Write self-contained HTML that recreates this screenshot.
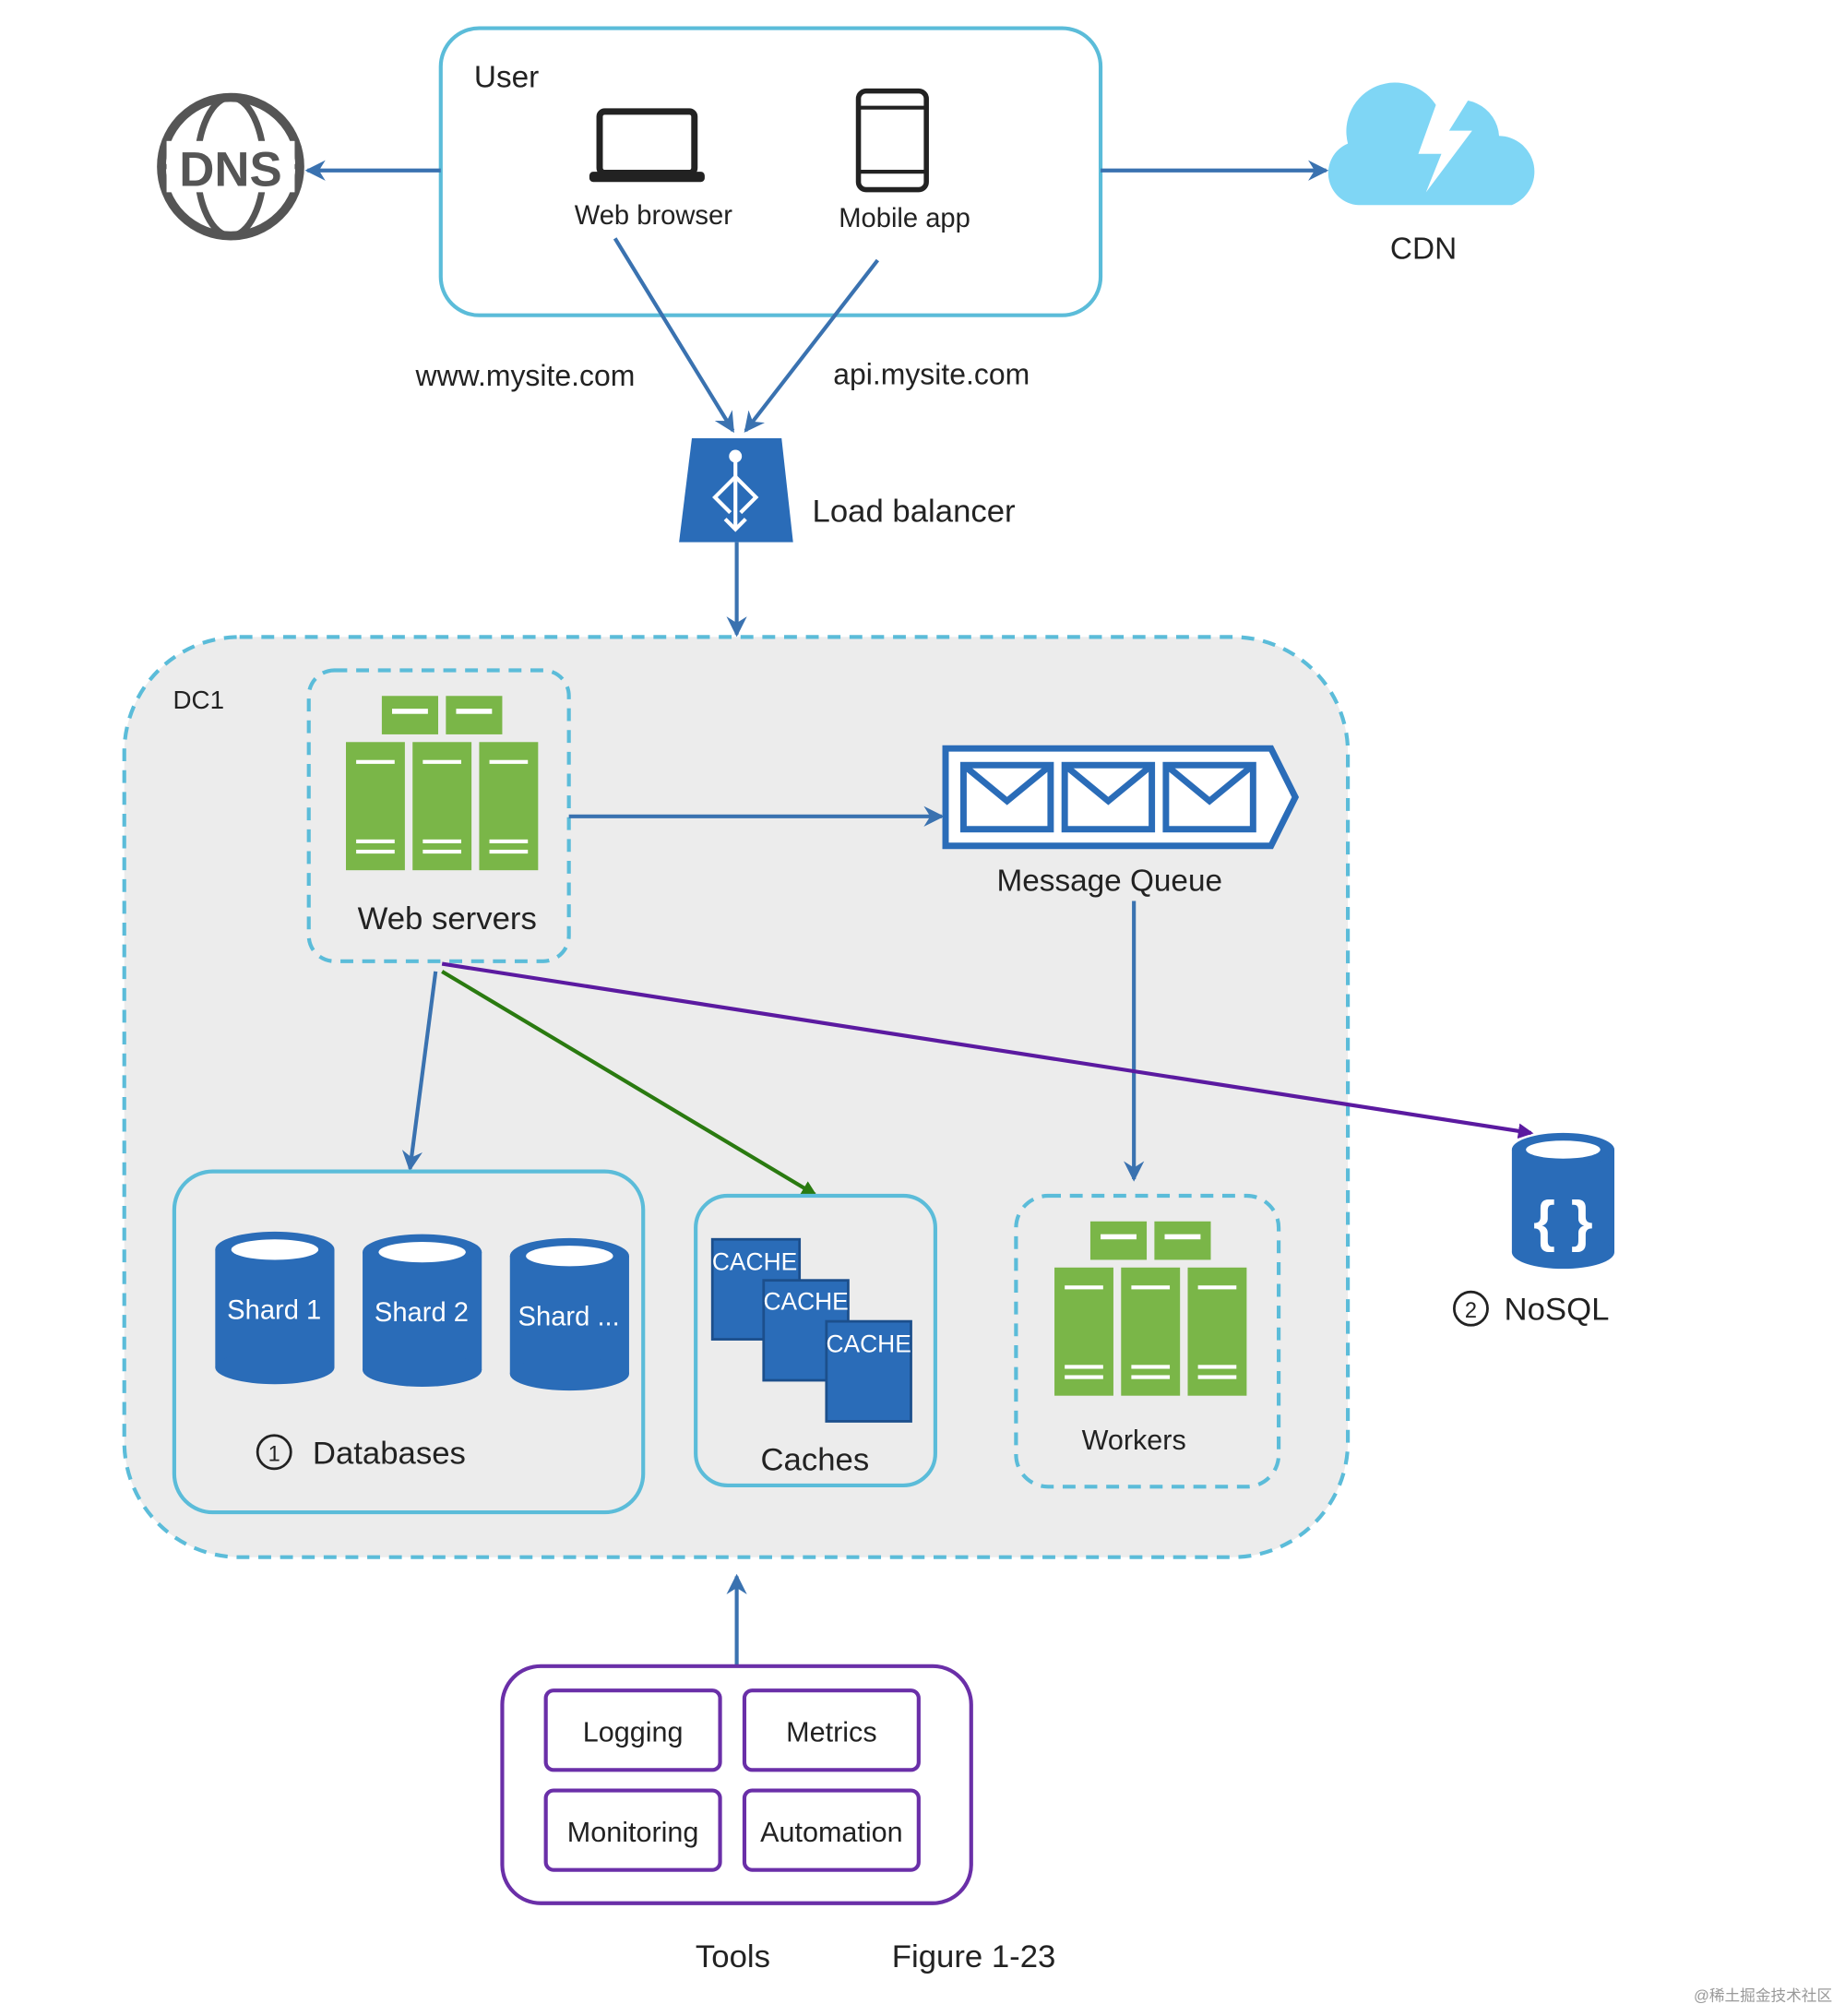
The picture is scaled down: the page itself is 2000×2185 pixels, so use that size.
<!DOCTYPE html>
<html><head><meta charset="utf-8"><style>
html,body{margin:0;padding:0;background:#fff;}
svg{display:block;}
text{font-family:"Liberation Sans","Noto Sans CJK SC",sans-serif;fill:#222;}
</style></head><body>
<svg width="2000" height="2185" viewBox="0 0 1440 1573" preserveAspectRatio="none" xmlns="http://www.w3.org/2000/svg">
<defs>
<marker id="ab" markerWidth="10" markerHeight="10" refX="8" refY="5" orient="auto" markerUnits="userSpaceOnUse"><path d="M0,0 L10,5 L0,10 L3,5 z" fill="#3a72b0"/></marker>
<marker id="ag" markerWidth="12" markerHeight="12" refX="10" refY="6" orient="auto" markerUnits="userSpaceOnUse"><path d="M0,0 L12,6 L0,12 z" fill="#2a7a10"/></marker>
<marker id="ap" markerWidth="12" markerHeight="12" refX="10" refY="6" orient="auto" markerUnits="userSpaceOnUse"><path d="M0,0 L12,6 L0,12 z" fill="#5b1aa0"/></marker>
<marker id="ab2" markerWidth="16" markerHeight="16" refX="14" refY="8" orient="auto" markerUnits="userSpaceOnUse"><path d="M0,0 L16,8 L0,16 L5,8 z" fill="#3a72b0"/></marker>
<g id="srv">
<rect x="28" y="0" width="44" height="30" fill="#7ab648"/><rect x="78" y="0" width="44" height="30" fill="#7ab648"/>
<rect x="36" y="10" width="28" height="4" fill="#fff"/><rect x="86" y="10" width="28" height="4" fill="#fff"/>
<rect x="0" y="36" width="46" height="100" fill="#7ab648"/><rect x="52" y="36" width="46" height="100" fill="#7ab648"/><rect x="104" y="36" width="46" height="100" fill="#7ab648"/>
<g fill="#fff"><rect x="8" y="50" width="30" height="3"/><rect x="60" y="50" width="30" height="3"/><rect x="112" y="50" width="30" height="3"/>
<rect x="8" y="112" width="30" height="3"/><rect x="60" y="112" width="30" height="3"/><rect x="112" y="112" width="30" height="3"/>
<rect x="8" y="120" width="30" height="3"/><rect x="60" y="120" width="30" height="3"/><rect x="112" y="120" width="30" height="3"/></g>
</g>
</defs>

<!-- User box -->
<rect x="344" y="22" width="515" height="224" rx="30" fill="#fff" stroke="#5bbcd9" stroke-width="3"/>
<text x="370" y="68" font-size="24">User</text>
<rect x="468" y="87" width="74" height="48" rx="4" fill="none" stroke="#222" stroke-width="5"/>
<rect x="460" y="134" width="90" height="8" rx="3" fill="#222"/>
<text x="510" y="175" font-size="21" text-anchor="middle">Web browser</text>
<rect x="670" y="71" width="53" height="77" rx="6" fill="none" stroke="#222" stroke-width="4"/>
<line x1="670" y1="84" x2="723" y2="84" stroke="#222" stroke-width="3"/><line x1="670" y1="134" x2="723" y2="134" stroke="#222" stroke-width="3"/>
<text x="706" y="177" font-size="21" text-anchor="middle">Mobile app</text>

<!-- DNS -->
<circle cx="180" cy="130" r="54" fill="none" stroke="#555" stroke-width="7"/>
<ellipse cx="180" cy="130" rx="26" ry="54" fill="none" stroke="#555" stroke-width="5"/>
<line x1="126" y1="130" x2="234" y2="130" stroke="#555" stroke-width="4"/>
<rect x="130" y="110" width="100" height="40" fill="#fff"/>
<text x="180" y="145" font-size="38" font-weight="bold" text-anchor="middle" fill="#555" style="fill:#555">DNS</text>
<line x1="344" y1="133" x2="240" y2="133" stroke="#3a72b0" stroke-width="3" marker-end="url(#ab2)"/>

<!-- CDN -->
<line x1="859" y1="133" x2="1035" y2="133" stroke="#3a72b0" stroke-width="3" marker-end="url(#ab2)"/>
<path d="M1060,160 a25,25 0 0 1 -8,-48 a38,38 0 0 1 70,-28 a30,30 0 0 1 48,22 a28,28 0 0 1 10,54 z" fill="#7fd6f5"/>
<path d="M1125,70 l-18,50 h18 l-12,30 l36,-48 h-18 l20,-32 z" fill="#fff"/>
<text x="1111" y="202" font-size="24" text-anchor="middle">CDN</text>

<!-- lines to LB -->
<line x1="480" y1="186" x2="572" y2="336" stroke="#3a72b0" stroke-width="3" marker-end="url(#ab2)"/>
<line x1="685" y1="203" x2="582" y2="336" stroke="#3a72b0" stroke-width="3" marker-end="url(#ab2)"/>
<text x="410" y="301" font-size="23" text-anchor="middle">www.mysite.com</text>
<text x="727" y="300" font-size="23" text-anchor="middle">api.mysite.com</text>

<!-- LB -->
<path d="M540,342 L610,342 L619,423 L530,423 Z" fill="#2a6cb8"/>
<g stroke="#fff" stroke-width="3" fill="none"><line x1="574" y1="356" x2="574" y2="412"/><path d="M574,372 L558,388 L570,400"/><path d="M574,372 L590,388 L578,400"/><path d="M566,405 L574,413 L582,405"/></g>
<circle cx="574" cy="356" r="5" fill="#fff"/>
<text x="634" y="407" font-size="25">Load balancer</text>
<line x1="575" y1="423" x2="575" y2="495" stroke="#3a72b0" stroke-width="3" marker-end="url(#ab2)"/>

<!-- DC1 -->
<rect x="97" y="497" width="955" height="718" rx="90" fill="#ececec" stroke="#5bbcd9" stroke-width="3" stroke-dasharray="10,7"/>
<text x="135" y="553" font-size="20">DC1</text>

<rect x="241" y="523" width="203" height="227" rx="20" fill="none" stroke="#5bbcd9" stroke-width="3" stroke-dasharray="10,7"/>
<use href="#srv" x="270" y="543"/>
<text x="349" y="725" font-size="25" text-anchor="middle">Web servers</text>

<line x1="444" y1="637" x2="735" y2="637" stroke="#3a72b0" stroke-width="3" marker-end="url(#ab2)"/>

<!-- MQ -->
<path d="M738,584 L992,584 L1011,622 L992,660 L738,660 Z" fill="#fff" stroke="#2a6cb8" stroke-width="5"/>
<g fill="#fff" stroke="#2a6cb8" stroke-width="5">
<rect x="752" y="597" width="68" height="50"/><path d="M752,597 L786,625 L820,597" fill="none"/>
<rect x="831" y="597" width="68" height="50"/><path d="M831,597 L865,625 L899,597" fill="none"/>
<rect x="910" y="597" width="68" height="50"/><path d="M910,597 L944,625 L978,597" fill="none"/>
</g>
<text x="866" y="695" font-size="24" text-anchor="middle">Message Queue</text>
<line x1="885" y1="703" x2="885" y2="920" stroke="#3a72b0" stroke-width="3" marker-end="url(#ab2)"/>

<!-- edges from web servers -->
<line x1="340" y1="758" x2="320" y2="912" stroke="#3a72b0" stroke-width="3" marker-end="url(#ab2)"/>
<line x1="345" y1="758" x2="636" y2="932" stroke="#2a7a10" stroke-width="3" marker-end="url(#ag)"/>
<line x1="345" y1="752" x2="1195" y2="884" stroke="#5b1aa0" stroke-width="3" marker-end="url(#ap)"/>

<!-- Databases -->
<rect x="136" y="914" width="366" height="266" rx="30" fill="none" stroke="#5bbcd9" stroke-width="3"/>
<g>
<rect x="168" y="975" width="93" height="92" fill="#2a6cb8"/><ellipse cx="214.5" cy="1067" rx="46.5" ry="13" fill="#2a6cb8"/><ellipse cx="214.5" cy="975" rx="46.5" ry="14" fill="#2a6cb8"/><ellipse cx="214.5" cy="975" rx="34" ry="8" fill="#fff"/>
<rect x="283" y="977" width="93" height="92" fill="#2a6cb8"/><ellipse cx="329.5" cy="1069" rx="46.5" ry="13" fill="#2a6cb8"/><ellipse cx="329.5" cy="977" rx="46.5" ry="14" fill="#2a6cb8"/><ellipse cx="329.5" cy="977" rx="34" ry="8" fill="#fff"/>
<rect x="398" y="980" width="93" height="92" fill="#2a6cb8"/><ellipse cx="444.5" cy="1072" rx="46.5" ry="13" fill="#2a6cb8"/><ellipse cx="444.5" cy="980" rx="46.5" ry="14" fill="#2a6cb8"/><ellipse cx="444.5" cy="980" rx="34" ry="8" fill="#fff"/>
</g>
<text x="214" y="1029" font-size="21" text-anchor="middle" style="fill:#fff">Shard 1</text>
<text x="329" y="1031" font-size="21" text-anchor="middle" style="fill:#fff">Shard 2</text>
<text x="444" y="1034" font-size="21" text-anchor="middle" style="fill:#fff">Shard ...</text>
<circle cx="214" cy="1133" r="13" fill="none" stroke="#222" stroke-width="2"/><text x="214" y="1140" font-size="17" text-anchor="middle">1</text>
<text x="244" y="1142" font-size="25">Databases</text>

<!-- Caches -->
<rect x="543" y="933" width="187" height="226" rx="25" fill="none" stroke="#5bbcd9" stroke-width="3"/>
<rect x="556" y="967" width="68" height="78" fill="#2a6cb8" stroke="#1c4f8c" stroke-width="2"/>
<rect x="596" y="999" width="66" height="78" fill="#2a6cb8" stroke="#1c4f8c" stroke-width="2"/>
<rect x="645" y="1031" width="66" height="78" fill="#2a6cb8" stroke="#1c4f8c" stroke-width="2"/>
<text x="589" y="991" font-size="19" text-anchor="middle" style="fill:#fff" transform="scale(1,1)">CACHE</text>
<text x="629" y="1022" font-size="19" text-anchor="middle" style="fill:#fff">CACHE</text>
<text x="678" y="1055" font-size="19" text-anchor="middle" style="fill:#fff">CACHE</text>
<text x="636" y="1147" font-size="25" text-anchor="middle">Caches</text>

<!-- Workers -->
<rect x="793" y="933" width="205" height="227" rx="25" fill="none" stroke="#5bbcd9" stroke-width="3" stroke-dasharray="10,7"/>
<use href="#srv" x="823" y="953"/>
<text x="885" y="1131" font-size="22" text-anchor="middle">Workers</text>

<!-- NoSQL -->
<rect x="1180" y="897" width="80" height="80" fill="#2a6cb8"/><ellipse cx="1220" cy="977" rx="40" ry="13" fill="#2a6cb8"/><ellipse cx="1220" cy="897" rx="40" ry="13" fill="#2a6cb8"/><ellipse cx="1220" cy="897" rx="29" ry="7" fill="#fff"/>
<text x="1220" y="968" font-size="44" font-weight="bold" text-anchor="middle" style="fill:#fff">{ }</text>
<circle cx="1148" cy="1021" r="13" fill="none" stroke="#222" stroke-width="2"/><text x="1148" y="1028" font-size="17" text-anchor="middle">2</text>
<text x="1174" y="1030" font-size="25">NoSQL</text>

<!-- Tools -->
<line x1="575" y1="1300" x2="575" y2="1230" stroke="#3a72b0" stroke-width="3" marker-end="url(#ab2)"/>
<rect x="392" y="1300" width="366" height="185" rx="30" fill="#fff" stroke="#6a2fa8" stroke-width="3"/>
<g fill="none" stroke="#6a2fa8" stroke-width="3">
<rect x="426" y="1319" width="136" height="62" rx="6"/><rect x="581" y="1319" width="136" height="62" rx="6"/>
<rect x="426" y="1397" width="136" height="62" rx="6"/><rect x="581" y="1397" width="136" height="62" rx="6"/>
</g>
<text x="494" y="1359" font-size="22" text-anchor="middle">Logging</text>
<text x="649" y="1359" font-size="22" text-anchor="middle">Metrics</text>
<text x="494" y="1437" font-size="22" text-anchor="middle">Monitoring</text>
<text x="649" y="1437" font-size="22" text-anchor="middle">Automation</text>
<text x="572" y="1535" font-size="25" text-anchor="middle">Tools</text>
<text x="760" y="1535" font-size="25" text-anchor="middle">Figure 1-23</text>
<text x="1430" y="1561" font-size="12" text-anchor="end" style="fill:#999">@稀土掘金技术社区</text>
</svg>
</body></html>
